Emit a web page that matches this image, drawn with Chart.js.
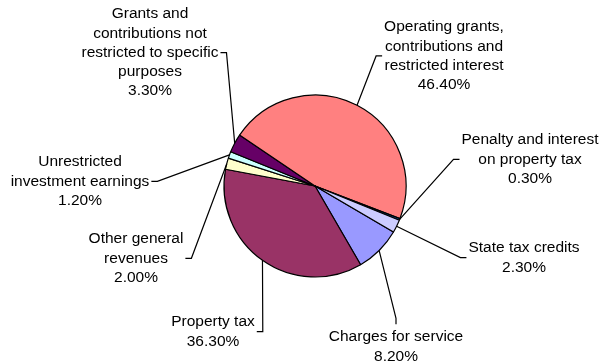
<!DOCTYPE html>
<html>
<head>
<meta charset="utf-8">
<script src="https://cdn.jsdelivr.net/npm/chart.js@4.4.1/dist/chart.umd.min.js"></script>
<style>
  body { margin: 0; background: #fff; }
</style>
</head>
<body>
<canvas id="myChart" width="600" height="364"></canvas>
<script>
// data in Excel series order (first slice = Charges for service)
const categories = [
  'Charges for service',
  'Property tax',
  'Other general\nrevenues',
  'Unrestricted\ninvestment earnings',
  'Grants and\ncontributions not\nrestricted to specific\npurposes',
  'Operating grants,\ncontributions and\nrestricted interest',
  'Penalty and interest\non property tax',
  'State tax credits'
];
const shares = [8.2, 36.3, 2.0, 1.2, 3.3, 46.4, 0.3, 2.3];
const sliceColors = ['#9999FF', '#993366', '#FFFFCC', '#CCFFFF', '#660066', '#FF8080', '#0066CC', '#CCCCFF'];

// label layout: centre x, first text line y, side where the leader attaches
const labelX = [396, 213, 136, 80, 150, 444, 530, 524];
const labelY = [337, 322, 239, 162, 14, 27, 140, 248];
const labelSide = ['top', 'right', 'right', 'right', 'right', 'left', 'left', 'left'];
const lineH = 19.3;

const leaderLabels = {
  id: 'leaderLabels',
  afterDraw(chart) {
    const c = chart.ctx;
    const arcs = chart.getDatasetMeta(0).data;
    c.save();
    c.font = '15.5px "Liberation Sans", Arial, sans-serif';
    c.fillStyle = '#000';
    c.strokeStyle = '#000';
    c.lineWidth = 1.2;
    c.textAlign = 'center';
    c.textBaseline = 'middle';
    arcs.forEach((arc, i) => {
      const lines = categories[i].split('\n').concat(shares[i].toFixed(2) + '%');
      const x = labelX[i], y0 = labelY[i];
      lines.forEach((t, k) => c.fillText(t, x, y0 + k * lineH));
      const w = Math.max(...lines.map(t => c.measureText(t).width));
      const mid = y0 + (lines.length - 1) * lineH / 2;

      const p = arc.getProps(['x', 'y', 'startAngle', 'endAngle', 'outerRadius']);
      const a = (p.startAngle + p.endAngle) / 2;
      const ax = p.x + Math.cos(a) * p.outerRadius;
      const ay = p.y + Math.sin(a) * p.outerRadius;

      let ex, ey, bx, by;
      if (labelSide[i] === 'top') {
        ex = x; ey = y0 - lineH / 2 - 3; bx = x; by = ey - 6;
      } else if (labelSide[i] === 'right') {
        ex = x + w / 2 + 2; ey = mid; bx = ex + 6; by = ey;
      } else {
        ex = x - w / 2 - 2; ey = mid; bx = ex - 6; by = ey;
      }
      c.beginPath();
      c.moveTo(ax, ay);
      c.lineTo(bx, by);
      c.lineTo(ex, ey);
      c.stroke();
    });
    c.restore();
  }
};

const ctx = document.getElementById('myChart').getContext('2d');
new Chart(ctx, {
  type: 'pie',
  data: {
    labels: categories,
    datasets: [{
      data: shares,
      backgroundColor: sliceColors,
      borderColor: '#000',
      borderWidth: 1.2
    }]
  },
  options: {
    devicePixelRatio: 1,
    responsive: false,
    animation: false,
    events: [],
    rotation: 120.4,
    radius: 91,
    layout: { padding: { left: 30, top: 8 } },
    plugins: { legend: { display: false }, tooltip: { enabled: false } }
  },
  plugins: [leaderLabels]
});
</script>
</body>
</html>
